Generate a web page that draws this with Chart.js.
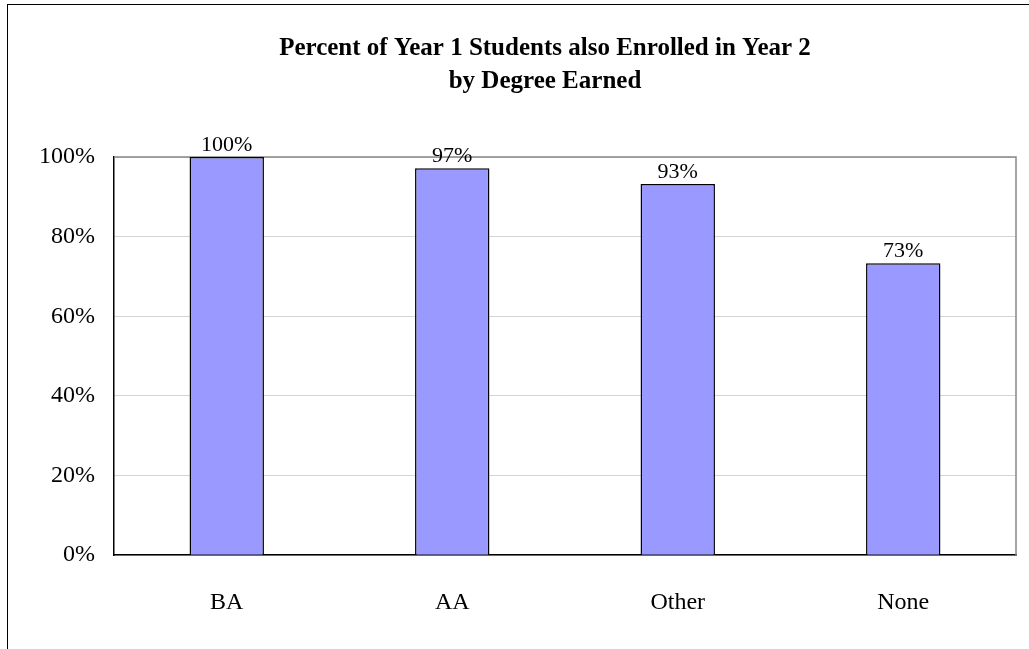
<!DOCTYPE html>
<html>
<head>
<meta charset="utf-8">
<script src="https://cdn.jsdelivr.net/npm/chart.js@4"></script>
<style>
    html, body { margin: 0; padding: 0; background: #fff; overflow: hidden; }
    #frame {
        position: absolute;
        left: 7px;
        top: 4px;
        width: 1074px;
        height: 700px;
        border: 1px solid #000;
    }
    #chart { display: block; }
</style>
</head>
<body>
<div id="frame">
    <canvas id="chart" width="1074" height="645"></canvas>
</div>
<script>
// Data
var categories = ['BA', 'AA', 'Other', 'None'];
var enrolled = [100, 97.2, 93.2, 73.3];
var yTicks = [0, 20, 40, 60, 80, 100];
var titleLines = ['Percent of Year 1 Students also Enrolled in Year 2', 'by Degree Earned'];

var serif = "'Liberation Serif', 'Times New Roman', serif";
Chart.defaults.font.family = serif;
Chart.defaults.color = '#000';

// title centred on the whole chart box (not just the plot)
var chartTitle = {
    id: 'chartTitle',
    afterDraw: function (chart) {
        var ctx = chart.ctx;
        ctx.save();
        ctx.font = 'bold 25px ' + serif;
        ctx.fillStyle = '#000';
        ctx.textAlign = 'center';
        ctx.textBaseline = 'middle';
        titleLines.forEach(function (line, i) {
            ctx.fillText(line, chart.width / 2, 44 + i * 33);
        });
        ctx.restore();
    }
};

// plot frame: grey box, black axes drawn by the scales
var plotFrame = {
    id: 'plotFrame',
    beforeDatasetsDraw: function (chart) {
        var a = chart.chartArea;
        var ctx = chart.ctx;
        ctx.save();
        ctx.strokeStyle = '#888';
        ctx.lineWidth = 1.5;
        ctx.beginPath();
        ctx.moveTo(a.left, a.top);
        ctx.lineTo(a.right, a.top);
        ctx.lineTo(a.right, a.bottom);
        ctx.stroke();
        ctx.restore();
    }
};

// value labels above each bar
var barLabels = {
    id: 'barLabels',
    afterDatasetsDraw: function (chart) {
        var ctx = chart.ctx;
        var meta = chart.getDatasetMeta(0);
        ctx.save();
        ctx.font = '22px ' + serif;
        ctx.fillStyle = '#000';
        ctx.textAlign = 'center';
        ctx.textBaseline = 'alphabetic';
        meta.data.forEach(function (bar, i) {
            ctx.fillText(Math.round(enrolled[i]) + '%', bar.x, bar.y - 6);
        });
        ctx.restore();
    }
};

var ctx = document.getElementById('chart');
var myBarChart = new Chart(ctx, {
    type: 'bar',
    data: {
        labels: categories,
        datasets: [{
            data: enrolled,
            backgroundColor: '#9999ff',
            borderColor: '#000',
            borderWidth: 1.5,
            barPercentage: 0.33,
            categoryPercentage: 1
        }]
    },
    options: {
        responsive: false,
        animation: false,
        layout: {
            padding: { left: 12, right: 66, top: 152, bottom: 8 }
        },
        plugins: {
            legend: { display: false },
            tooltip: { enabled: false },
            title: { display: false }
        },
        scales: {
            x: {
                grid: { display: false },
                border: { color: '#000', width: 1.5 },
                ticks: { font: { size: 24 }, padding: 25 }
            },
            y: {
                min: 0,
                max: 100,
                afterBuildTicks: function (scale) {
                    scale.ticks = yTicks.map(function (v) { return { value: v }; });
                },
                grid: { color: '#d4d4d4', lineWidth: 1, drawTicks: false },
                border: { color: '#000', width: 1.5 },
                ticks: {
                    font: { size: 24 },
                    padding: 19,
                    callback: function (v) { return v + '%'; }
                }
            }
        }
    },
    plugins: [plotFrame, barLabels, chartTitle]
});
</script>
</body>
</html>
